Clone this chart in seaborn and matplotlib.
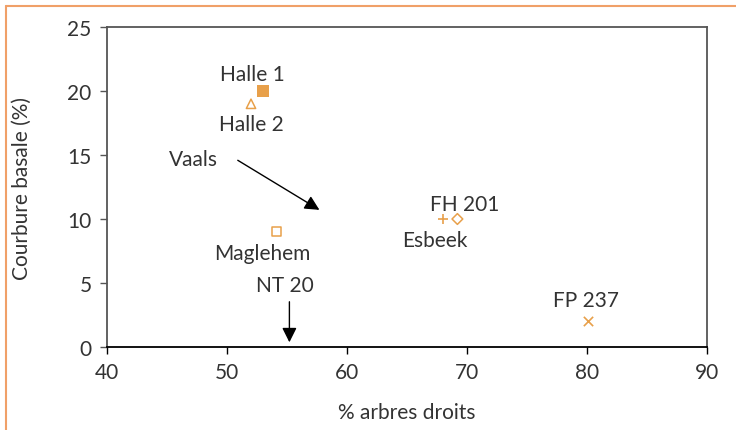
import matplotlib
matplotlib.use("Agg")
import matplotlib.pyplot as plt
import seaborn as sns
from matplotlib.lines import Line2D

# provenances
noms = ["Halle 1", "Halle 2", "Maglehem", "FH 201", "Esbeek", "FP 237"]
droits = [53, 52, 54.1, 68, 69.2, 80.1]
courbure = [20, 19, 9, 10, 10, 2]
marqueurs = ["s", "^", "s", "+", "D", "x"]
plein = [True, False, False, True, False, True]
# decalage des etiquettes (pixels)
dx = [-11, 0, -14, 22, -23, -2]
dy = [17, -20, -21, 15, -21, 21]

# fleches
fleche_noms = ["Vaals", "NT 20"]
fleche_x = [57.9, 55.2]
fleche_y = [10.6, 0.15]
fleche_dx = [-7.2, 0]
fleche_dy = [4.1, 3.6]
texte_dx = [-3.5, -0.4]
texte_dy = [0, 1.1]

orange = "#E8A04A"
gris = "#333333"

sns.set_style("white")
plt.rcParams["font.family"] = ["Lato", "DejaVu Sans"]

fig = plt.figure(figsize=(7.36, 4.31), dpi=100)
ax = fig.add_axes([107/736, 1-348/431, 600/736, 320/431])

for n, x, y, m, p in zip(noms, droits, courbure, marqueurs, plein):
    if m in ["+", "x"]:
        sns.scatterplot(x=[x], y=[y], marker=m, color=orange, s=45, linewidth=1.2, ax=ax)
    elif p:
        sns.scatterplot(x=[x], y=[y], marker=m, color=orange, s=75, linewidth=0, ax=ax)
    else:
        s = 30 if m == "D" else 45
        ax.scatter([x], [y], marker=m, facecolors="none", edgecolors=orange, s=s, linewidths=1.1)

for n, x, y, ox, oy in zip(noms, droits, courbure, dx, dy):
    ax.annotate(n, (x, y), xytext=(ox, oy), textcoords="offset pixels",
                ha="center", va="center", fontsize=15, color=gris)

for n, x, y, ddx, ddy, tx, ty in zip(fleche_noms, fleche_x, fleche_y, fleche_dx, fleche_dy, texte_dx, texte_dy):
    ax.annotate("", xy=(x, y), xytext=(x + ddx, y + ddy),
                arrowprops=dict(arrowstyle="-|>", color="black", lw=1, mutation_scale=22))
    ax.text(x + ddx + tx, y + ddy + ty, n, ha="center", va="center", fontsize=15, color=gris)

ax.set_xlim(40, 90)
ax.set_ylim(0, 25)
ax.set_xticks(range(40, 91, 10))
ax.set_yticks(range(0, 26, 5))
ax.set_xlabel("% arbres droits", fontsize=15, color=gris, labelpad=14)
ax.set_ylabel("Courbure basale (%)", fontsize=15, color=gris, labelpad=26)
ax.tick_params(axis="both", direction="out", length=5, width=1, labelsize=15,
               labelcolor=gris, color="#555555", pad=6)
ax.tick_params(axis="x", colors="black", labelcolor=gris)
ax.xaxis.set_ticks_position("bottom")
ax.yaxis.set_ticks_position("left")
for c in ["left", "top", "right"]:
    ax.spines[c].set_color("#555555")
    ax.spines[c].set_linewidth(1.3)
ax.spines["bottom"].set_color("black")
ax.spines["bottom"].set_linewidth(1.3)

# cadre orange
fig.add_artist(Line2D([6/736, 1], [1-7/431, 1-7/431], color="#F0A068", lw=1.5, transform=fig.transFigure))
fig.add_artist(Line2D([6/736, 6/736], [0, 1-7/431], color="#F0A068", lw=1.5, transform=fig.transFigure))

fig.savefig("out.png", dpi=100)
